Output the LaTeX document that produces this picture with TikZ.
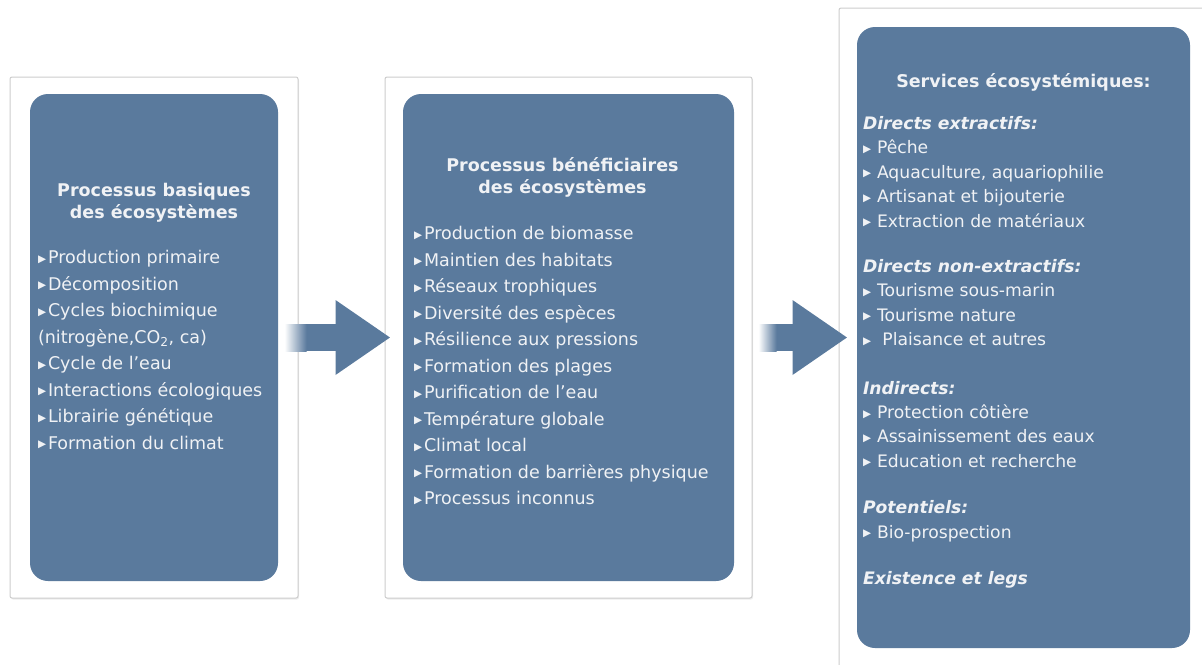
\documentclass[tikz,border=0pt]{standalone}
\usepackage{fontspec}
\setmainfont{DejaVu Sans}
\usetikzlibrary{positioning, arrows.meta, shadows, calc}

\definecolor{panelblue}{RGB}{90,122,157}
\definecolor{framegray}{RGB}{205,205,205}
\definecolor{textwhite}{RGB}{240,242,245}
\newcommand{\puce}{\makebox[10pt][l]{\raisebox{1.5pt}{\fontsize{10.5}{10.5}\selectfont ▶}}}
\newcommand{\pucelarge}{\makebox[14pt][l]{\raisebox{1.5pt}{\fontsize{10.5}{10.5}\selectfont ▶}}}

\begin{document}
\begin{tikzpicture}[x=1pt, y=1pt,
    frame/.style={rectangle, draw=framegray, fill=white, line width=1pt, rounded corners=2pt,
        drop shadow={opacity=0.15, shadow xshift=1pt, shadow yshift=-1.5pt}},
    panel/.style={rectangle, rounded corners=18pt, fill=panelblue},
    title/.style={font=\bfseries\fontsize{17.5}{22.5}\selectfont, text=textwhite, align=center, inner sep=0pt},
    items/.style={font=\fontsize{17.5}{26.5}\selectfont, text=textwhite, align=left, inner sep=0pt},
    services/.style={font=\fontsize{17.2}{24.4}\selectfont, text=textwhite, align=left, inner sep=0pt},
    bigarrow/.style={draw=panelblue, line width=27pt, -{Triangle[length=55pt, width=71pt]}},
    fadein/.style={left color=white, right color=panelblue}]
    \useasboundingbox (0,0) rectangle (1202,-664);

    % Frames
    \node (frame1) [frame, minimum width=288pt, minimum height=521pt] at (154,-337.5) {};
    \node (frame2) [frame, minimum width=367pt, minimum height=521pt] at (568.5,-337.5) {};
    \node (frame3) [frame, minimum width=369pt, minimum height=659pt] at (1023.5,-337.5) {};

    % Blue panels
    \node (panel1) [panel, minimum width=248pt, minimum height=487pt] at (frame1.center) {};
    \node (panel2) [panel, minimum width=331pt, minimum height=487pt] at (frame2.center) {};
    \node (panel3) [panel, minimum width=333pt, minimum height=621pt] at (frame3.center) {};

    % Texts
    \node (title1) [title, below=89pt of panel1.north] {Processus basiques\\des écosystèmes};
    \node (list1) [items, below right=156.5pt and 8pt of panel1.north west] {%
        \puce Production primaire\\
        \puce Décomposition\\
        \puce Cycles biochimique\\
        (nitrogène,CO\textsubscript{2}, ca)\\
        \puce Cycle de l’eau\\
        \puce Interactions écologiques\\
        \puce Librairie génétique\\
        \puce Formation du climat};

    \node (title2) [title, below=63.5pt of panel2.north, xshift=-6pt] {Processus bénéficiaires\\des écosystèmes};
    \node (list2) [items, below right=132.5pt and 11pt of panel2.north west] {%
        \puce Production de biomasse\\
        \puce Maintien des habitats\\
        \puce Réseaux trophiques\\
        \puce Diversité des espèces\\
        \puce Résilience aux pressions\\
        \puce Formation des plages\\
        \puce Purification de l’eau\\
        \puce Température globale\\
        \puce Climat local\\
        \puce Formation de barrières physique\\
        \puce Processus inconnus};

    \node (title3) [title, below=46.5pt of panel3.north] {Services écosystémiques:};
    \node (list3) [services, below right=89.5pt and 6pt of panel3.north west] {%
        \textbf{\textit{Directs extractifs:}}\\
        \pucelarge Pêche\\
        \pucelarge Aquaculture, aquariophilie\\
        \pucelarge Artisanat et bijouterie\\
        \pucelarge Extraction de matériaux\\[21pt]
        \textbf{\textit{Directs non-extractifs:}}\\
        \pucelarge Tourisme sous-marin\\
        \pucelarge Tourisme nature\\
        \pucelarge\ Plaisance et autres\\[24pt]
        \textbf{\textit{Indirects:}}\\
        \pucelarge Protection côtière\\
        \pucelarge Assainissement des eaux\\
        \pucelarge Education et recherche\\[22pt]
        \textbf{\textit{Potentiels:}}\\
        \pucelarge Bio-prospection\\[22pt]
        \textbf{\textit{Existence et legs}}};

    % Arrows
    \draw[bigarrow, shorten <=-13pt, shorten >=-6pt] (frame1.east) -- (frame2.west);
    \draw[bigarrow, shorten <=7pt, shorten >=-9pt] (frame2.east) -- (frame2.east -| frame3.west);
    \shade[fadein] ($(frame1.east)+(-14,13.5)$) rectangle ($(frame1.east)+(8,-13.5)$);
    \shade[fadein] ($(frame2.east)+(6,13.5)$) rectangle ($(frame2.east)+(24,-13.5)$);

\end{tikzpicture}
\end{document}
